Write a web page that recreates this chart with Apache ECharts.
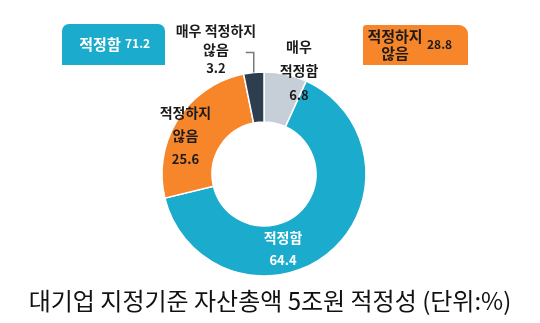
<!DOCTYPE html>
<html>
<head>
<meta charset="utf-8">
<script src="https://cdn.jsdelivr.net/npm/echarts@6/dist/echarts.min.js"></script>
<style>
html,body{margin:0;padding:0;background:#fff;}
#main{width:540px;height:323px;}
</style>
</head>
<body>
<div id="main"></div>
<script>
// ---- data ----
const categories = ['매우\n적정함', '적정함', '적정하지\n않음', '매우 적정하지\n않음'];
const values = [6.8, 64.4, 25.6, 3.2];
const summaryNames = ['적정함', '적정하지\n않음'];
const summaryValues = [71.2, 28.8];
const titleText = '대기업 지정기준 자산총액 5조원 적정성 (단위:%)';

// ---- styles ----
const colors = ['#c6ced7', '#1aabcd', '#f7862b', '#2d3e4e'];
const labelColors = ['#1b1b1b', '#ffffff', '#1b1b1b', '#1b1b1b'];
const labelOffsets = [[18, -25], [-32, 13], [-11, 5], [-40, -45]];
const nameLineHeights = [24, 22, 23, 19];
const FONT = '"Noto Sans CJK KR", "Noto Sans", sans-serif';
const CX = 264, CY = 174, R_OUT = 102, R_IN = 52;

const chart = echarts.init(document.getElementById('main'), null, {renderer: 'canvas'});

const pieData = categories.map((c, i) => ({
  name: c,
  value: values[i],
  itemStyle: {color: colors[i]},
  label: {
    color: labelColors[i],
    rich: {
      n: {fontSize: 14, fontWeight: 'bold', lineHeight: nameLineHeights[i], color: labelColors[i], fontFamily: FONT},
      v: {fontSize: 13, fontWeight: 'bold', lineHeight: nameLineHeights[i], color: labelColors[i], fontFamily: FONT}
    }
  }
}));

// leader line for the smallest slice computed from pie geometry
const total = values.reduce((a, b) => a + b, 0);
const beforeLast = values.slice(0, 3).reduce((a, b) => a + b, 0);
const midFrac = (beforeLast + values[3] / 2) / total;
const ang = (90 - 360 * midFrac) * Math.PI / 180;
const p0 = [CX + R_OUT * Math.cos(ang), CY - R_OUT * Math.sin(ang)];
const p1 = [p0[0], p0[1] - 20];
const p2 = [p1[0] - 8, p1[1]];

function box(x, y, w, h, fill, name, value, nameX, valueX, textColor, radius) {
  return {
    type: 'group',
    children: [
      {type: 'rect', shape: {x: x, y: y, width: w, height: h, r: radius}, style: {fill: fill}},
      {type: 'text', style: {x: nameX, y: y + h / 2, text: name, textAlign: 'center', textVerticalAlign: 'middle',
        fill: textColor, font: 'bold 15px ' + FONT, lineHeight: 17}},
      {type: 'text', style: {x: valueX, y: y + h / 2 - 1, text: String(value), textAlign: 'left', textVerticalAlign: 'middle',
        fill: textColor, font: 'bold 12px ' + FONT}}
    ]
  };
}

const option = {
  backgroundColor: '#ffffff',
  animation: false,
  title: {
    text: titleText,
    left: 'center',
    top: 284,
    textStyle: {fontFamily: FONT, fontSize: 24, fontWeight: 'normal', color: '#111111'}
  },
  series: [{
    type: 'pie',
    center: [CX, CY],
    radius: [R_IN, R_OUT],
    startAngle: 90,
    clockwise: true,
    itemStyle: {borderColor: '#ffffff', borderWidth: 1.5},
    label: {
      show: true,
      position: 'inside',
      formatter: function (p) { return '{n|' + p.name.split('\n').join('}\n{n|') + '}\n{v|' + p.value + '}'; },
      align: 'center'
    },
    labelLine: {show: false},
    labelLayout: function (p) {
      const o = labelOffsets[p.dataIndex];
      return {dx: o[0], dy: o[1]};
    },
    emphasis: {disabled: true},
    data: pieData
  }],
  graphic: [
    box(62, 24, 103, 41, '#1aabcd', summaryNames[0], summaryValues[0], 100, 125, '#ffffff', [7, 7, 0, 0]),
    box(363, 25, 105, 40, '#f7862b', summaryNames[1], summaryValues[1], 395, 427, '#1b1b1b', [3, 9, 0, 0]),
    {type: 'polyline', shape: {points: [p0, p1, p2]}, style: {stroke: '#7a7a7a', lineWidth: 1.5, fill: null}, z: 10}
  ]
};
chart.setOption(option);
</script>
</body>
</html>
